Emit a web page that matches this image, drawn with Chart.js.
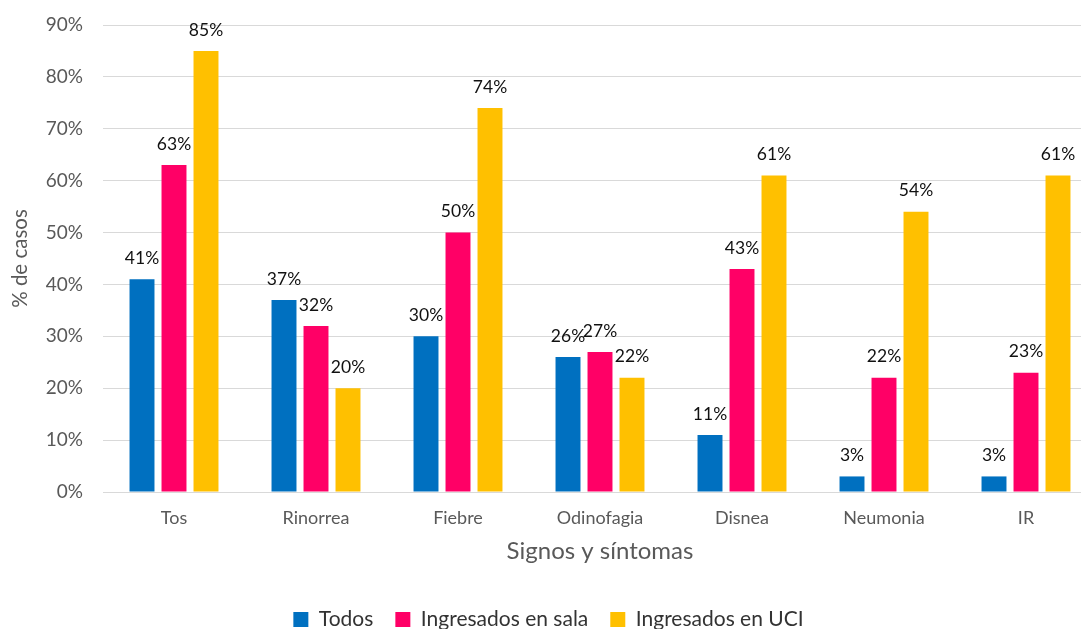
<!DOCTYPE html>
<html>
<head>
<meta charset="utf-8">
<script src="https://cdn.jsdelivr.net/npm/chart.js@4/dist/chart.umd.min.js"></script>
<style>
    html, body { margin: 0; padding: 0; background: #fff; overflow: hidden; }
    #wrap { width: 1100px; height: 640px; }
</style>
</head>
<body>
<div id="wrap"><canvas id="chart"></canvas></div>
<script>
// Chart data
const categories = ['Tos', 'Rinorrea', 'Fiebre', 'Odinofagia', 'Disnea', 'Neumonia', 'IR'];
const seriesNames = ['Todos', 'Ingresados en sala', 'Ingresados en UCI'];
const todos = [41, 37, 30, 26, 11, 3, 3];
const sala = [63, 32, 50, 27, 43, 22, 23];
const uci = [85, 20, 74, 22, 61, 54, 61];
const colors = ['#0070C0', '#FF0066', '#FFC000'];
const yMax = 90;
const yStep = 10;

const FONT = 'Lato, "Open Sans", sans-serif';

// Draw the value above each bar
const valueLabels = {
    id: 'valueLabels',
    afterDatasetsDraw(chart) {
        const ctx = chart.ctx;
        ctx.save();
        ctx.font = '17.5px ' + FONT;
        ctx.fillStyle = '#111';
        ctx.textAlign = 'center';
        ctx.textBaseline = 'middle';
        chart.data.datasets.forEach((ds, i) => {
            chart.getDatasetMeta(i).data.forEach((bar, j) => {
                ctx.fillText(ds.data[j] + '%', bar.x, bar.y - 21);
            });
        });
        ctx.restore();
    }
};

const seriesData = [todos, sala, uci];

new Chart(document.getElementById('chart'), {
    type: 'bar',
    data: {
        labels: categories,
        datasets: seriesNames.map((name, i) => ({
            label: name,
            data: seriesData[i],
            backgroundColor: colors[i],
            borderWidth: 0,
            categoryPercentage: 0.676,
            barPercentage: 0.78
        }))
    },
    options: {
        responsive: true,
        maintainAspectRatio: false,
        animation: false,
        layout: { padding: { top: 25, right: 3, left: 0, bottom: 0 } },
        plugins: {
            legend: {
                position: 'bottom',
                labels: {
                    font: { family: FONT, size: 21 },
                    color: '#333',
                    boxWidth: 15,
                    boxHeight: 15,
                    padding: 22
                }
            },
            tooltip: { enabled: false }
        },
        scales: {
            x: {
                grid: { display: false, drawTicks: false },
                border: { color: '#D9D9D9', width: 1 },
                ticks: {
                    font: { family: FONT, size: 18 },
                    color: '#595959',
                    padding: 15
                },
                title: {
                    display: true,
                    text: 'Signos y síntomas',
                    font: { family: FONT, size: 24 },
                    color: '#595959',
                    padding: { top: 0, bottom: 21 }
                },
                afterFit(scale) { scale.height = 95; }
            },
            y: {
                min: 0,
                max: yMax,
                grid: { color: '#D9D9D9', lineWidth: 1, drawTicks: false },
                border: { display: false },
                ticks: {
                    stepSize: yStep,
                    font: { family: FONT, size: 19 },
                    color: '#595959',
                    padding: 20,
                    callback: v => v + '%'
                },
                title: {
                    display: true,
                    text: '% de casos',
                    font: { family: FONT, size: 20.5 },
                    color: '#595959',
                    padding: { top: 8, bottom: 0 }
                },
                afterFit(scale) {
                    scale.width = 103;
                    // tick padding should not push the plot area down
                    scale.paddingTop = 0;
                    scale.paddingBottom = 0;
                }
            }
        }
    },
    plugins: [valueLabels]
});
</script>
</body>
</html>
